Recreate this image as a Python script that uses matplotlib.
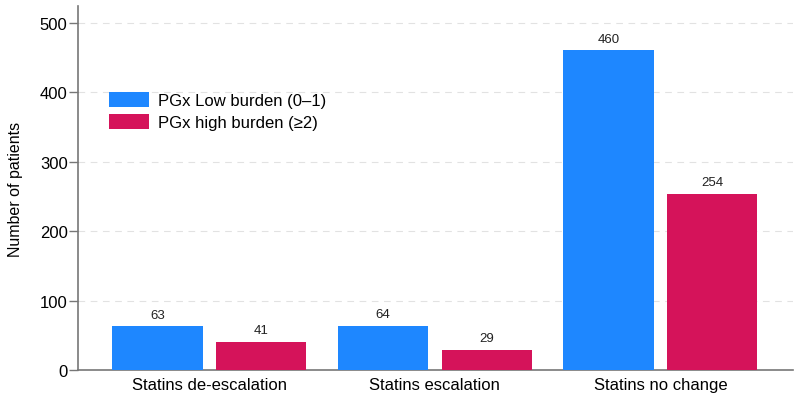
import matplotlib.pyplot as plt
import numpy as np

categories = ["Statins de-escalation", "Statins escalation", "Statins no change"]
low_burden = [63, 64, 460]
high_burden = [41, 29, 254]
series_labels = ["PGx Low burden (0\u20131)", "PGx high burden (\u22652)"]

plt.rcParams["font.family"] = ["Liberation Sans", "DejaVu Sans"]

fig = plt.figure(figsize=(7.98, 4.02), dpi=100)
ax = fig.add_axes([78 / 798, 1 - 371 / 402, (793 - 78) / 798, (371 - 7) / 402])

x = np.arange(len(categories))
width = 0.40
offset = 0.23

b1 = ax.bar(x - offset, low_burden, width, color="#1e87ff", label=series_labels[0], zorder=3)
b2 = ax.bar(x + offset, high_burden, width, color="#d5135a", label=series_labels[1], zorder=3)

for bars in (b1, b2):
    for rect in bars:
        ax.annotate(f"{int(rect.get_height())}",
                    (rect.get_x() + rect.get_width() / 2, rect.get_height()),
                    xytext=(0, 4), textcoords="offset points",
                    ha="center", va="bottom", fontsize=9.5, color="#222222")

ax.set_xlim(-0.583, 2.588)
ax.set_ylim(0, 524)
ax.set_yticks([0, 100, 200, 300, 400, 500])
ax.set_xticks(x)
ax.set_xticklabels(categories, fontsize=12)
ax.tick_params(axis="x", length=0, pad=5)
ax.tick_params(axis="y", labelsize=12, length=6.5, pad=1, color="#777777", width=1)

ax.yaxis.grid(True, linestyle=(0, (6, 5)), color="#e2e2e2", linewidth=0.8, zorder=0)
ax.set_axisbelow(True)

for side in ("top", "right"):
    ax.spines[side].set_visible(False)
for side in ("left", "bottom"):
    ax.spines[side].set_color("#777777")
    ax.spines[side].set_linewidth(1.2)

ax.set_ylabel("Number of patients", fontsize=11.5)
ax.yaxis.set_label_coords(-0.077, 0.5)

ax.legend(loc="upper left", bbox_to_anchor=(96 / 798, 1 - 80 / 402),
          bbox_transform=fig.transFigure, frameon=False, fontsize=12,
          handlelength=2.4, handleheight=1.0, handletextpad=0.55,
          labelspacing=0.35, borderpad=0.3)

fig.savefig("out.png", dpi=100, facecolor="white")
